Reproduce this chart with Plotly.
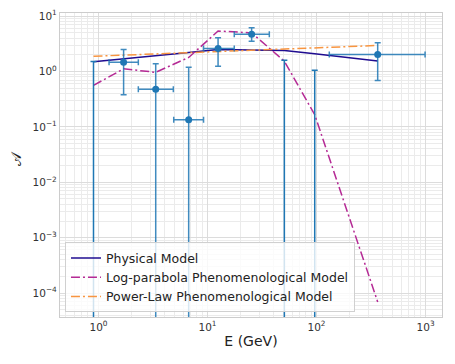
import plotly.graph_objects as go

# measured flux points
e_pts = [1.70, 3.35, 6.72, 12.5, 25.4, 364.0]
e_lo = [1.25, 2.32, 4.90, 9.20, 17.6, 131.0]
e_hi = [2.32, 4.86, 9.20, 17.6, 36.9, 990.0]
a_pts = [1.47, 0.478, 0.135, 2.60, 4.70, 2.03]
a_lo = [0.38, 1e-9, 1e-9, 1.25, 3.54, 0.69]
a_hi = [2.50, 1.38, 1.20, 4.10, 6.20, 3.30]

# upper limits (value consistent with zero)
ul_e = [0.90, 50.7, 96.3]
ul_top = [1.52, 1.60, 1.06]
ul_base = [1e-9, 1e-9, 1e-9]

# model curves
e_model = [0.90, 1.70, 3.35, 6.72, 12.5, 25.4, 50.7, 96.3, 364.0]
physical = [1.50, 1.68, 1.95, 2.21, 2.50, 2.47, 2.40, 2.09, 1.55]
log_parabola = [0.565, 1.12, 0.97, 1.80, 5.40, 5.00, 1.54, 0.166, 6.9e-5]
power_law = [1.89, 1.98, 2.08, 2.19, 2.29, 2.41, 2.53, 2.65, 2.96]

BLUE = "#1f77b4"
FONT = "DejaVu Sans"

fig = go.Figure()

fig.add_trace(go.Scatter(
    x=e_model, y=physical, mode="lines", name="Physical Model",
    line=dict(color="#1f0c90", width=1.5),
))
fig.add_trace(go.Scatter(
    x=e_model, y=log_parabola, mode="lines", name="Log-parabola Phenomenological Model",
    line=dict(color="#b52a95", width=1.5, dash="9px,3px,2px,3px"),
))
fig.add_trace(go.Scatter(
    x=e_model, y=power_law, mode="lines", name="Power-Law Phenomenological Model",
    line=dict(color="#f89540", width=1.5, dash="9px,3px,2px,3px"),
))

fig.add_trace(go.Scatter(
    x=ul_e, y=ul_base, mode="markers", showlegend=False,
    marker=dict(size=1, color="rgba(0,0,0,0)"),
    error_y=dict(type="data", symmetric=False,
                 array=[t - b for t, b in zip(ul_top, ul_base)],
                 arrayminus=[0, 0, 0],
                 color=BLUE, thickness=1.5, width=3),
))

fig.add_trace(go.Scatter(
    x=e_pts, y=a_pts, mode="markers", showlegend=False,
    marker=dict(size=7, color=BLUE),
    error_x=dict(type="data", symmetric=False,
                 array=[h - v for h, v in zip(e_hi, e_pts)],
                 arrayminus=[v - l for l, v in zip(e_lo, e_pts)],
                 color="rgba(31,119,180,0.85)", thickness=1.5, width=3),
    error_y=dict(type="data", symmetric=False,
                 array=[h - v for h, v in zip(a_hi, a_pts)],
                 arrayminus=[v - l for l, v in zip(a_lo, a_pts)],
                 color="rgba(31,119,180,0.85)", thickness=1.5, width=3),
))

axis_common = dict(
    type="log", automargin=False,
    showgrid=True, gridcolor="#dcdcdc", gridwidth=1,
    showline=True, linecolor="#cccccc", linewidth=1.2, mirror=True,
    ticks="", zeroline=False,
    tickfont=dict(family=FONT, size=10.5, color="#333333"),
    minor=dict(showgrid=True, gridcolor="#ebebeb", gridwidth=0.8, dtick="D1"),
)

# page body keeps its default 8px margin, so the figure is a bit smaller
fig.update_layout(
    width=447, height=356,
    margin=dict(l=52, r=13, t=5, b=47),
    paper_bgcolor="white", plot_bgcolor="white",
    font=dict(family=FONT, color="#222222"),
    xaxis=dict(
        **axis_common,
        range=[-0.353, 3.151],
        tickvals=[1, 10, 100, 1000],
        ticktext=["10<sup>0</sup>", "10<sup>1</sup>", "10<sup>2</sup>", "10<sup>3</sup>"],
        title=dict(text="E (GeV)", font=dict(family=FONT, size=14, color="#222222"), standoff=4),
    ),
    yaxis=dict(
        **axis_common,
        range=[-4.433, 1.058],
        tickvals=[1e-4, 1e-3, 1e-2, 1e-1, 1, 10],
        ticktext=["10<sup>\u22124</sup>", "10<sup>\u22123</sup>", "10<sup>\u22122</sup>",
                  "10<sup>\u22121</sup>", "10<sup>0</sup>", "10<sup>1</sup>"],
    ),
    legend=dict(
        x=0.013, y=0.015, xanchor="left", yanchor="bottom",
        bgcolor="rgba(255,255,255,0.8)", bordercolor="#d0d0d0", borderwidth=1,
        font=dict(family=FONT, size=12.5, color="#222222"),
        tracegroupgap=0, itemwidth=30,
    ),
)

fig.add_annotation(
    text="\U0001D49C", textangle=-90, showarrow=False,
    xref="paper", yref="paper", x=-0.115, y=0.5, yshift=6,
    xanchor="center", yanchor="middle",
    font=dict(family=FONT, size=14, color="#222222"),
)

fig.write_html("out.html")
